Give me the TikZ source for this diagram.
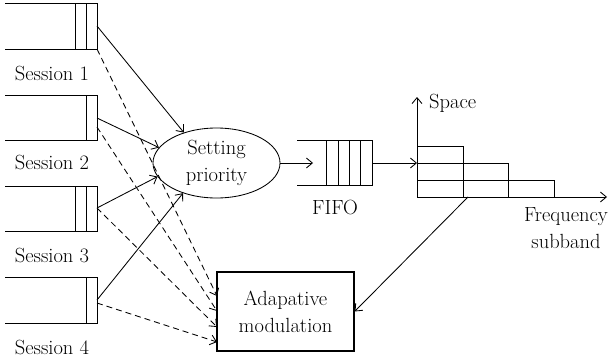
\documentclass[tikz,border=0pt]{standalone}
\usepackage{fontspec}
\usetikzlibrary{shapes.geometric,arrows.meta}
\tikzset{
  lbl/.style={font=\rmfamily\fontsize{20.5}{27}\selectfont, inner sep=0pt, align=center},
  ln/.style={line width=0.85pt},
  arr/.style={ln, -{Straight Barb[length=6pt,width=10pt]}},
  darr/.style={arr, dash pattern=on 6pt off 4pt},
}
\begin{document}
\begin{tikzpicture}[x=1pt,y=-1pt]
\useasboundingbox (0,0) rectangle (608,364);
% queues
\draw[ln] (5,3) -- (97,3) -- (97,49) -- (5,49);
\draw[ln] (75,3) -- (75,49) (86,3) -- (86,49);
\draw[ln] (5,95) -- (97,95) -- (97,140) -- (5,140);
\draw[ln] (86,95) -- (86,140);
\draw[ln] (5,186) -- (97,186) -- (97,231) -- (5,231);
\draw[ln] (75,186) -- (75,231) (86,186) -- (86,231);
\draw[ln] (5,277) -- (97,277) -- (97,323) -- (5,323);
\draw[ln] (86,277) -- (86,323);
\node[lbl] (s1) at (52,73) {Session 1};
\node[lbl] (s2) at (52,162) {Session 2};
\node[lbl] (s3) at (52,255) {Session 3};
\node[lbl] (s4) at (52,347) {Session 4};
\coordinate (q1) at (97,26);
\coordinate (q1d) at (97,49);
\coordinate (q2) at (97,118);
\coordinate (q2d) at (97,127);
\coordinate (q3) at (97,208);
\coordinate (q4) at (97,300);
\coordinate (q4d) at (97,303);
% priority ellipse
\node[lbl, ellipse, draw, ln, minimum width=127pt, minimum height=70pt] (prio) at (216.5,163) {Setting\\priority};
% adaptive modulation box
\node[lbl, draw, line width=1.2pt, minimum width=137pt, minimum height=79pt] (box) at (285.5,311.5) {Adapative\\modulation};
\coordinate (a1) at (217,296);
\coordinate (a2) at (217,311);
\coordinate (a3) at (217,327);
\coordinate (a4) at (217,342);
% solid arrows
\draw[arr] (q1) -- (prio.137);
\draw[arr] (q2) -- (prio.165.6);
\draw[arr] (q3) -- (prio.193.5);
\draw[arr] (q4) -- (prio.222.8);
% dashed arrows
\draw[darr] (q1d) -- (a1);
\draw[darr] (q2d) -- (a2);
\draw[darr] (q3) -- (a3);
\draw[darr] (q4d) -- (a4);
% FIFO
\draw[ln] (297,140) -- (372,140) -- (372,185) -- (297,185);
\draw[ln] (326,140) -- (326,185) (338,140) -- (338,185) (349,140) -- (349,185) (360,140) -- (360,185);
\coordinate (fin) at (313,163);
\coordinate (fout) at (372,163);
\node[lbl] (fifo) at (335,207) {FIFO};
\draw[arr] (prio.east) -- (fin);
% axes
\coordinate (o) at (417,197);
\coordinate (ytop) at (417,97);
\coordinate (xend) at (607,197);
\draw[arr] (o) -- (ytop);
\draw[arr] (o) -- (xend);
\draw[arr] (fout) -- (417,163);
\draw[ln] (417,146) rectangle (463,197);
\draw[ln] (417,163) -- (508,163) -- (508,197);
\draw[ln] (417,180) -- (554,180) -- (554,197);
\node[lbl, anchor=west] (space) at (429,103) {Space};
\node[lbl] (freq) at (566,228) {Frequency\\subband};
\coordinate (fb) at (468,197);
\draw[arr] (fb) -- (box.east);
\end{tikzpicture}
\end{document}
